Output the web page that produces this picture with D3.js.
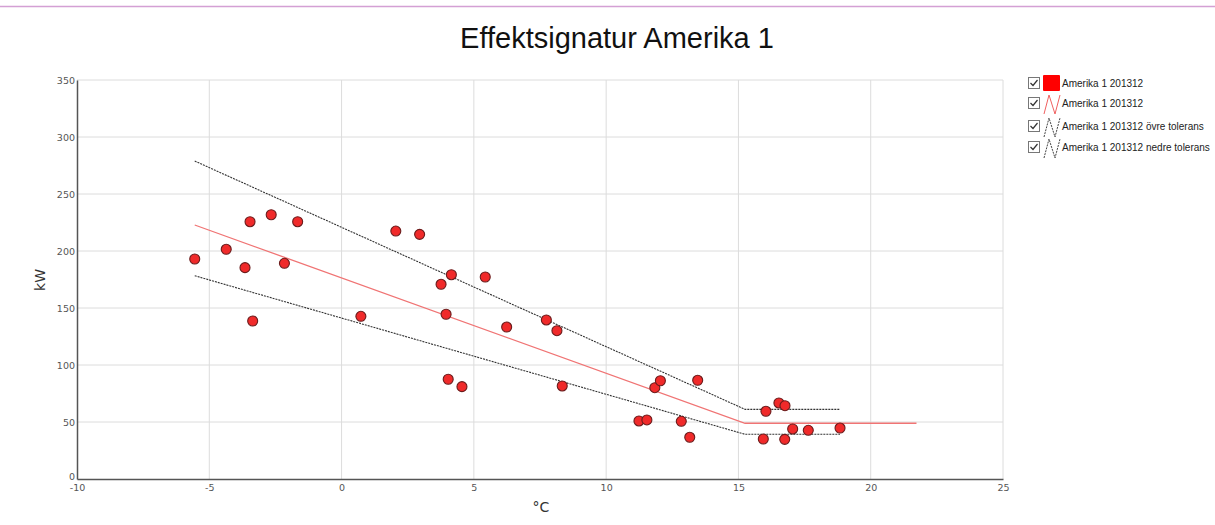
<!DOCTYPE html>
<html>
<head>
<meta charset="utf-8">
<script src="https://cdn.jsdelivr.net/npm/d3@7"></script>
<style>
  body { margin: 0; background: #fff; }
  svg { display: block; }
</style>
</head>
<body>
<script>
// measured points, outdoor temp (°C) vs power (kW)
const tempC = [-5.55, -4.36, -3.65, -3.46, -3.36, -2.66, -2.16, -1.66, 0.73, 2.05,
  2.95, 3.76, 4.15, 3.95, 4.03, 4.55, 5.43, 6.24, 7.74, 8.14,
  8.34, 11.24, 11.54, 11.84, 12.05, 12.84, 13.16, 13.46, 16.04, 16.53,
  16.76, 15.94, 16.75, 17.05, 17.64, 18.84]
const powerKW = [193, 201.5, 185.4, 225.7, 138.6, 231.8, 189.2, 225.7, 142.7, 217.5,
  214.6, 170.8, 179.2, 144.5, 87.5, 81, 177.2, 133.3, 139.5, 130.1,
  81.6, 50.9, 51.8, 80.1, 86.2, 50.6, 36.6, 86.6, 59.4, 66.7,
  64.3, 35.1, 34.8, 43.9, 42.7, 44.7]

// signature line and tolerances (vertices)
const fitX = [-5.55, 15.25, 21.73]
const fitY = [222.8, 48.9, 48.9]
const upperX = [-5.55, 15.25, 18.84]
const upperY = [278.9, 61.1, 61.1]
const lowerX = [-5.55, 15.25, 18.84]
const lowerY = [178.3, 39.2, 39.2]

const xTicks = [-10, -5, 0, 5, 10, 15, 20, 25]
const yTicks = [0, 50, 100, 150, 200, 250, 300, 350]

const legendLabels = ["Amerika 1 201312", "Amerika 1 201312",
  "Amerika 1 201312 övre tolerans", "Amerika 1 201312 nedre tolerans"]
const legendKinds = ["marker", "fit", "tol", "tol"]

const width = 1215, height = 525
const svg = d3.select("body").append("svg")
    .attr("width", width)
    .attr("height", height)

// frame bits of the surrounding page
svg.append("line")
    .attr("x1", 0).attr("x2", width).attr("y1", 6.5).attr("y2", 6.5)
    .attr("stroke", "#d4a0d4").attr("stroke-width", 1.5)

const x = d3.scaleLinear().domain([-10, 25]).range([77, 1003])
const y = d3.scaleLinear().domain([0, 350]).range([479, 80])

svg.append("text")
    .attr("x", 617).attr("y", 48)
    .attr("text-anchor", "middle")
    .style("font-family", "Liberation Sans, Arial, sans-serif")
    .style("font-size", "29px")
    .attr("fill", "#111")
    .text("Effektsignatur Amerika 1")

// grid
const grid = svg.append("g")
grid.selectAll(".vg").data(xTicks.slice(1)).enter().append("line")
    .attr("x1", d => x(d)).attr("x2", d => x(d))
    .attr("y1", y(350)).attr("y2", y(0))
    .attr("stroke", "#dcdcdc")
grid.selectAll(".hg").data(yTicks.slice(1)).enter().append("line")
    .attr("x1", x(-10)).attr("x2", x(25))
    .attr("y1", d => y(d)).attr("y2", d => y(d))
    .attr("stroke", "#dcdcdc")

// axes
const xAxis = svg.append("g")
    .attr("transform", "translate(0," + y(0) + ")")
    .call(d3.axisBottom(x).tickValues(xTicks).tickSize(0).tickPadding(3).tickFormat(d => String(d)))
const yAxis = svg.append("g")
    .attr("transform", "translate(" + x(-10) + ",0)")
    .call(d3.axisLeft(y).tickValues(yTicks).tickSize(0).tickPadding(2).tickFormat(d => String(d)))

;[xAxis, yAxis].forEach(a => {
  a.select(".domain").attr("stroke", "#555").attr("stroke-width", 1.5)
  a.selectAll("text")
      .style("font-family", "DejaVu Sans, Verdana, sans-serif")
      .style("font-size", "9.5px")
      .attr("fill", "#555")
})
xAxis.selectAll("text").attr("dy", "0.9em")
yAxis.selectAll("text").filter(d => d === 0).attr("dy", "0.05em")

svg.append("text")
    .attr("x", 541).attr("y", 512)
    .attr("text-anchor", "middle")
    .style("font-family", "DejaVu Sans, sans-serif")
    .style("font-size", "14px")
    .attr("fill", "#333")
    .text("°C")
svg.append("text")
    .attr("transform", "translate(45,280) rotate(-90)")
    .attr("text-anchor", "middle")
    .style("font-family", "DejaVu Sans, sans-serif")
    .style("font-size", "14px")
    .attr("fill", "#333")
    .text("kW")

// lines
const line = d3.line().x(d => x(d[0])).y(d => y(d[1]))
const lines = [
  { xs: upperX, ys: upperY, color: "#333", dash: "2,1" },
  { xs: lowerX, ys: lowerY, color: "#333", dash: "2,1" },
  { xs: fitX, ys: fitY, color: "#f07474", dash: null }
]
lines.forEach(l => {
  svg.append("path")
      .datum(d3.zip(l.xs, l.ys))
      .attr("d", line)
      .attr("fill", "none")
      .attr("stroke", l.color)
      .attr("stroke-width", l.dash ? 1.1 : 1.3)
      .attr("stroke-dasharray", l.dash)
})

// points
svg.append("g").selectAll("circle")
    .data(d3.zip(tempC, powerKW))
  .enter().append("circle")
    .attr("cx", d => x(d[0]))
    .attr("cy", d => y(d[1]))
    .attr("r", 5)
    .attr("fill", "#f02a2a")
    .attr("stroke", "#6a1c1c")
    .attr("stroke-width", 1.1)

// legend
const legend = svg.append("g").attr("transform", "translate(1028,77)")
const item = legend.selectAll("g").data(legendLabels).enter().append("g")
    .attr("transform", (d, i) => "translate(0," + [0, 20, 43, 64][i] + ")")

item.append("rect")
    .attr("x", 0.5).attr("y", 0.5).attr("width", 11).attr("height", 11)
    .attr("fill", "#fff").attr("stroke", "#777")
item.append("path")
    .attr("d", "M2.5,6 L5,8.5 L9.5,3")
    .attr("fill", "none").attr("stroke", "#333").attr("stroke-width", 1.2)

item.each(function(d, i) {
  const g = d3.select(this)
  const kind = legendKinds[i]
  if (kind === "marker") {
    g.append("rect")
        .attr("x", 15).attr("y", -2).attr("width", 17).attr("height", 16)
        .attr("fill", "#f00").attr("rx", 1)
  } else {
    g.append("path")
        .attr("d", "M16,17 L21,-2 L27,17 L32,-2")
        .attr("fill", "none")
        .attr("stroke", kind === "fit" ? "#f06060" : "#444")
        .attr("stroke-width", 1)
        .attr("stroke-dasharray", kind === "fit" ? null : "2,1")
  }
  g.append("text")
      .attr("x", 34).attr("y", 10)
      .style("font-family", "Liberation Sans, Arial, sans-serif")
      .style("font-size", "10px")
      .attr("fill", "#222")
      .text(d)
})
</script>
</body>
</html>
